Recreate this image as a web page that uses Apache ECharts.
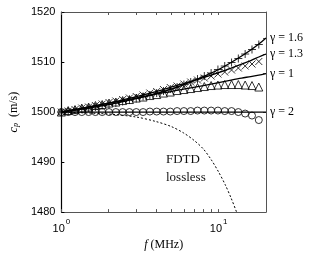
<!DOCTYPE html>
<html><head><meta charset="utf-8">
<script src="https://cdn.jsdelivr.net/npm/echarts@6/dist/echarts.min.js"></script>
<style>html,body{margin:0;padding:0;background:#fff}#c{width:311px;height:256px}</style>
</head><body><div id="c"></div>
<script>
// marker frequencies (MHz)
var fMarkers = [1.00,1.105,1.221,1.348,1.49,1.646,1.818,2.009,2.22,2.452,2.709,2.993,3.307,3.653,4.036,4.459,4.926,5.442,6.012,6.642,7.338,8.107,8.957,9.895,10.93,12.08,13.34,14.74,16.29,18.0];
var plus16 = [1500.0,1500.2,1500.4,1500.6,1500.8,1501.0,1501.3,1501.5,1501.8,1502.1,1502.4,1502.7,1503.1,1503.4,1503.8,1504.2,1504.6,1505.0,1505.5,1506.0,1506.6,1507.2,1507.8,1508.5,1509.2,1509.9,1510.7,1511.6,1512.5,1513.5];
var cross13 = [1500.0,1500.2,1500.5,1500.8,1501.0,1501.3,1501.6,1501.9,1502.2,1502.5,1502.8,1503.1,1503.4,1503.8,1504.1,1504.5,1504.9,1505.2,1505.6,1506.0,1506.4,1506.8,1507.2,1507.6,1508.0,1508.4,1508.8,1509.2,1509.6,1510.1];
var tri1 = [1500.0,1500.3,1500.5,1500.8,1501.0,1501.3,1501.5,1501.8,1502.0,1502.3,1502.5,1502.8,1503.0,1503.3,1503.5,1503.8,1504.0,1504.3,1504.5,1504.7,1504.9,1505.1,1505.3,1505.4,1505.5,1505.5,1505.5,1505.4,1505.3,1505.0];
var circ2 = [1500.0,1500.0,1500.0,1500.0,1500.0,1500.0,1500.0,1500.0,1500.0,1500.0,1500.0,1500.0,1500.0,1500.1,1500.1,1500.1,1500.1,1500.2,1500.2,1500.2,1500.3,1500.3,1500.3,1500.3,1500.2,1500.2,1500.0,1499.7,1499.3,1498.4];
// model curves
var fLines = [1,2,3,4,5,6,8,10,12,14,16,18,20];
var line16 = [1500,1501.5,1502.7,1503.7,1504.6,1505.5,1507.1,1508.5,1509.9,1511.2,1512.4,1513.6,1514.8];
var line13 = [1500,1501.8,1503.1,1504.1,1505.0,1505.7,1506.9,1507.9,1508.8,1509.6,1510.3,1511.0,1511.6];
var line1  = [1500,1501.8,1502.8,1503.6,1504.1,1504.6,1505.3,1505.9,1506.4,1506.8,1507.1,1507.4,1507.7];
var line2  = [1500,1500,1500,1500,1500,1500,1500,1500,1500,1500,1500,1500,1500];
// FDTD lossless
var fFdtd = [1,2,3,4,5,6,7,8,9,10,11,12,13,13.5];
var fdtd  = [1500,1499.6,1499.0,1498.1,1497.1,1495.8,1494.3,1492.6,1490.4,1488.0,1485.5,1482.8,1480.0,1478.5];
// labels
var gammaLabels = ['\u03b3 = 1.6','\u03b3 = 1.3','\u03b3 = 1','\u03b3 = 2'];
var gammaEnds = [1514.8,1511.6,1507.7,1500];
var yTicks = [1480,1490,1500,1510,1520];
var xMinorTicks = [1,2,3,4,5,6,7,8,9,10,20];

function pairs(xs, ys){ return xs.map(function(x,i){return [x, ys[i]];}); }
var serif = '"Liberation Serif","DejaVu Serif",serif';
var sans = '"Liberation Sans",Arial,sans-serif';
var black = '#000';
var grey = '#555';

var chart = echarts.init(document.getElementById('c'), null, {renderer:'canvas'});
function markerSeries(data, symbol, size){
  return {type:'scatter', data:data, symbol:symbol, symbolSize:size, z:5,
    itemStyle:{color:'transparent', borderColor:black, borderWidth:1}, clip:false, silent:true};
}
function lineSeries(data, extra){
  var s = {type:'line', data:data, showSymbol:false, smooth:0.3, lineStyle:{color:black, width:1.3}, z:4, silent:true, clip:true};
  for (var k in extra) s[k]=extra[k];
  return s;
}
chart.setOption({
  animation:false,
  grid:{left:55, right:45, top:12, bottom:43},
  xAxis:[{
    type:'log', logBase:10, min:1, max:20, position:'bottom',
    axisLine:{lineStyle:{color:grey, width:1}},
    axisTick:{inside:true, length:3, lineStyle:{color:grey}, customValues:xMinorTicks},
    splitLine:{show:false},
    axisLabel:{margin:6, color:black, showMaxLabel:false,
      formatter:function(v){ if (Math.abs(v-1)<1e-9) return '{r|10}{s|0}'; if (Math.abs(v-10)<1e-9) return '{r|10}{s|1}'; return ''; },
      rich:{r:{fontFamily:sans, fontSize:11, color:black, lineHeight:16, verticalAlign:'bottom'}, s:{fontFamily:sans, fontSize:8, color:black, lineHeight:8, verticalAlign:'top', padding:[0,0,0,1]}}},
    name:'{i|f} (MHz)', nameLocation:'middle', nameGap:24,
    nameTextStyle:{fontFamily:serif, fontSize:12, color:black, rich:{i:{fontFamily:serif, fontStyle:'italic', fontSize:12, color:black}}}
  },{
    type:'log', logBase:10, min:1, max:20, position:'top',
    axisLine:{lineStyle:{color:grey, width:1}},
    axisTick:{inside:true, length:3, lineStyle:{color:grey}, customValues:xMinorTicks},
    axisLabel:{show:false}, splitLine:{show:false}
  }],
  yAxis:[{
    type:'value', min:1480, max:1520, interval:10, position:'left',
    axisLine:{show:true, lineStyle:{color:black, width:1.2}},
    axisTick:{show:true, inside:true, length:3, lineStyle:{color:black}},
    splitLine:{show:false},
    axisLabel:{margin:6, color:black, fontFamily:sans, fontSize:11, formatter:function(v){return String(v);}},
    name:'{i|c}{sub|p}  (m/s)', nameLocation:'middle', nameGap:33,
    nameTextStyle:{fontFamily:serif, fontSize:12, color:black, rich:{i:{fontFamily:serif, fontStyle:'italic', fontSize:12, color:black}, sub:{fontFamily:serif, fontStyle:'italic', fontSize:8, color:black, verticalAlign:'bottom', lineHeight:6}}}
  },{
    type:'value', min:1480, max:1520, position:'right',
    axisLine:{show:true, lineStyle:{color:grey, width:1}},
    axisTick:{show:true, inside:true, length:3, lineStyle:{color:grey}, customValues:gammaEnds},
    splitLine:{show:false},
    axisLabel:{margin:4, color:black, fontFamily:serif, fontSize:12, customValues:gammaEnds,
      formatter:function(v){ for (var i=0;i<gammaEnds.length;i++){ if (Math.abs(v-gammaEnds[i])<1e-6) return gammaLabels[i]; } return ''; }}
  }],
  series:[
    lineSeries(pairs(fLines,line16)),
    lineSeries(pairs(fLines,line13)),
    lineSeries(pairs(fLines,line1)),
    lineSeries(pairs(fLines,line2)),
    lineSeries(pairs(fFdtd,fdtd), {smooth:0.3, lineStyle:{color:black, width:1, type:[2,2]}}),
    markerSeries(pairs(fMarkers,plus16), 'path://M5,0L5,10M0,5L10,5', 8),
    markerSeries(pairs(fMarkers,cross13), 'path://M0,0L10,10M0,10L10,0', 7),
    markerSeries(pairs(fMarkers,tri1), 'triangle', 8),
    markerSeries(pairs(fMarkers,circ2), 'circle', 7)
  ],
  graphic:[
    {type:'text', x:166, y:160, style:{text:'FDTD', fontFamily:serif, fontSize:13, fill:'#111', verticalAlign:'middle'}},
    {type:'text', x:166, y:178, style:{text:'lossless', fontFamily:serif, fontSize:13, fill:'#111', verticalAlign:'middle'}}
  ]
});
</script></body></html>
